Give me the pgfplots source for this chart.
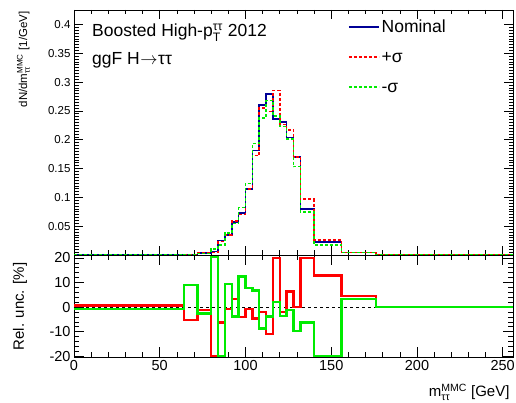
\documentclass[border=0pt]{standalone}
\usepackage{pgfplots}
\pgfplotsset{compat=1.18}
\usepackage{pgfplotstable}
\usepackage{amsmath}
\usepackage{fontspec}
\setmainfont{Liberation Sans}
\definecolor{nomblue}{RGB}{0,0,150}
\definecolor{upred}{RGB}{255,0,0}
\definecolor{dngreen}{RGB}{0,235,0}

\pgfplotstableread{
x nom up dn
0 0.0002 0.0002 0.0002
64 0.0010 0.00095 0.00109
72 0.0030 0.00296 0.00292
80 0.0060 0.0045 0.0100
84 0.0250 0.0234 0.0175
88 0.0350 0.0348 0.0383
92 0.0570 0.0589 0.0548
96 0.0730 0.0701 0.0821
100 0.1150 0.1142 0.1240
104 0.1810 0.1727 0.1933
108 0.2600 0.2548 0.2374
112 0.2790 0.2486 0.2681
116 0.2360 0.2856 0.2407
120 0.2310 0.2264 0.2227
124 0.2040 0.2171 0.2016
128 0.1700 0.1700 0.1533
132 0.0800 0.0968 0.0750
140 0.0230 0.0260 0.0173
156 0.0040 0.0042 0.0041
176 0.0001 0.0001 0.0001
256 0.0001 0.0001 0.0001
}\hist

\pgfplotstableread{
x up dn
0 0.7 -0.7
64 -5.2 9.1
72 -1.3 -2.6
80 -20 20.5
84 -6.3 -20
88 -0.7 9.4
92 3.4 -3.9
96 -4.0 12.5
100 -0.7 7.8
104 -4.6 6.8
108 -2.0 -8.7
112 -10.9 -3.9
116 20 2.0
120 -2.0 -3.6
124 6.4 -1.2
128 0 -9.8
132 20 -6.3
140 12.9 -20
156 4.4 3.4
176 0 0
256 0 0
}\ratio

\begin{document}
\begin{tikzpicture}
\useasboundingbox (0,0) rectangle (516pt,403pt);
% ---------------- top panel ----------------
\begin{axis}[
  at={(74pt,148pt)}, anchor=south west,
  scale only axis, width=439pt, height=245pt,
  xmin=0, xmax=256, ymin=0, ymax=0.425,
  xtick={0,50,100,150,200,250}, xticklabels={},
  minor x tick num=4,
  ytick={0,0.05,0.1,0.15,0.2,0.25,0.3,0.35,0.4},
  yticklabels={,0.05,0.1,0.15,0.2,0.25,0.3,0.35,0.4},
  minor y tick num=9,
  major tick length=9pt, minor tick length=4.5pt,
  tick style={black, line width=0.6pt},
  axis line style={line width=0.8pt},
  /pgf/number format/assume math mode=true,
  ticklabel style={font=\fontsize{11.5}{14}\selectfont},
  ylabel={dN/dm$^{\text{MMC}}_{\text{ττ}}$ [1/GeV]},
  ylabel style={at={(axis description cs:-0.107,1.008)}, anchor=base east, rotate=0, font=\fontsize{11.5}{13}\selectfont},
  legend style={at={(axis description cs:0.617,0.977)}, anchor=north west,
    draw=none, fill=none, font=\fontsize{17.5}{20}\selectfont,
    row sep=10pt, nodes={inner sep=2pt, text height=12.6pt, text depth=3.5pt}},
  legend cell align=left,
  legend image code/.code={\draw[#1] (0pt,1pt) -- (30pt,1pt);},
]
\addplot[const plot, nomblue, line width=1.6pt] table[x=x, y=nom] {\hist};
\addlegendentry{Nominal}
\addplot[const plot, upred, line width=1.6pt, dash pattern=on 3pt off 2pt] table[x=x, y=up] {\hist};
\addlegendentry{+σ}
\addplot[const plot, dngreen, line width=1.6pt, dash pattern=on 3pt off 2pt] table[x=x, y=dn] {\hist};
\addlegendentry{-σ}
\node[anchor=base west, font=\fontsize{17.5}{20}\selectfont, inner sep=0pt] at (rel axis cs:0.041,0.89) {Boosted High-p$^{\text{ττ}}_{\text{T}}$ 2012};
\node[anchor=base west, font=\fontsize{17.5}{20}\selectfont, inner sep=0pt] at (rel axis cs:0.041,0.776) {ggF H\kern0.5pt$\rightarrow$\kern0.5ptττ};
\end{axis}
% ---------------- ratio panel ----------------
\begin{axis}[
  at={(74pt,46pt)}, anchor=south west,
  scale only axis, width=439pt, height=102pt,
  xmin=0, xmax=256, ymin=-20.3, ymax=21.2,
  xtick={0,50,100,150,200,250},
  minor x tick num=4,
  ytick={-20,-10,0,10,20},
  minor y tick num=4,
  major tick length=10pt, minor tick length=5pt,
  tick style={black, line width=0.6pt},
  axis line style={line width=0.8pt},
  /pgf/number format/assume math mode=true,
  ticklabel style={font=\fontsize{14.5}{17}\selectfont},
  xlabel={m$^{\text{MMC}}_{\text{ττ}}$ [GeV]},
  xlabel style={at={(axis description cs:1,-0.39)}, anchor=base east, font=\fontsize{15}{17}\selectfont},
  ylabel={Rel. unc. [\%]},
  ylabel style={at={(axis description cs:-0.114,0.495)}, anchor=base, rotate=0, font=\fontsize{15}{17}\selectfont},
]
\addplot[black, dashed, line width=0.6pt] coordinates {(0,0) (256,0)};
\addplot[const plot, upred, line width=2.4pt] table[x=x, y=up] {\ratio};
\addplot[const plot, dngreen, line width=2.4pt] table[x=x, y=dn] {\ratio};
\end{axis}
\end{tikzpicture}
\end{document}
